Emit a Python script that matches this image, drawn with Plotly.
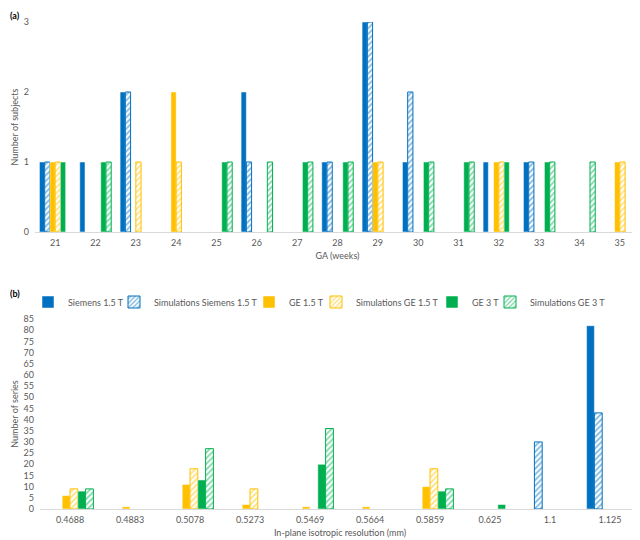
import plotly.graph_objects as go
import plotly.subplots as sp

# (a) subjects per gestational age
weeks = ["21", "22", "23", "24", "25", "26", "27", "28", "29", "30", "31", "32", "33", "34", "35"]
subj_siemens_15 = [1, 1, 2, 0, 0, 2, 0, 1, 3, 1, 0, 1, 1, 0, 0]
subj_sim_siemens_15 = [1, 0, 2, 0, 0, 1, 0, 1, 3, 2, 0, 0, 1, 0, 0]
subj_ge_15 = [1, 0, 0, 2, 0, 0, 0, 0, 1, 0, 0, 1, 0, 0, 1]
subj_sim_ge_15 = [1, 0, 1, 1, 0, 0, 0, 0, 1, 0, 0, 1, 0, 0, 1]
subj_ge_3 = [1, 1, 0, 0, 1, 0, 1, 1, 0, 1, 1, 1, 1, 0, 0]
subj_sim_ge_3 = [0, 1, 0, 0, 1, 1, 1, 1, 0, 1, 1, 0, 1, 1, 0]

# (b) series per in-plane resolution
resolutions = ["0.4688", "0.4883", "0.5078", "0.5273", "0.5469", "0.5664", "0.5859", "0.625", "1.1", "1.125"]
ser_siemens_15 = [0, 0, 0, 0, 0, 0, 0, 0, 0, 82]
ser_sim_siemens_15 = [0, 0, 0, 0, 0, 0, 0, 0, 30, 43]
ser_ge_15 = [6, 1, 11, 2, 1, 1, 10, 0, 0, 0]
ser_sim_ge_15 = [9, 0, 18, 9, 0, 0, 18, 0, 0, 0]
ser_ge_3 = [8, 0, 13, 0, 20, 0, 8, 2, 0, 0]
ser_sim_ge_3 = [9, 0, 27, 0, 36, 0, 9, 0, 0, 0]

series_names = [
    "Siemens 1.5 T",
    "Simulations Siemens 1.5 T",
    "GE 1.5 T",
    "Simulations GE 1.5 T",
    "GE 3 T",
    "Simulations GE 3 T",
]

BLUE = "#0070C0"
YELLOW = "#FFC000"
GREEN = "#00B050"
GREY = "#595959"
FONT = "Lato, 'Open Sans', sans-serif"

styles = [
    (BLUE, False),
    (BLUE, True),
    (YELLOW, False),
    (YELLOW, True),
    (GREEN, False),
    (GREEN, True),
]

# one legend per entry so the row can be laid out like the Excel legend
legend_ids = ["legend", "legend2", "legend3", "legend4", "legend5", "legend6"]
legend_left_px = [20, 106, 241, 308, 424, 482]


def make_bar(name, x, values, color, hatched, legend=None):
    # Excel leaves empty categories blank, so zeros are dropped
    y = [v if v else None for v in values]
    if hatched:
        marker = dict(
            color="white",
            line=dict(color=color, width=1),
            pattern=dict(shape="/", fgcolor=color, bgcolor="white", size=4, solidity=0.45),
        )
    else:
        marker = dict(color=color, line=dict(color="white", width=0.5))
    bar = go.Bar(name=name, x=x, y=y, marker=marker, showlegend=legend is not None)
    if legend:
        bar.legend = legend
    return bar


fig = sp.make_subplots(rows=2, cols=1)

top_values = [subj_siemens_15, subj_sim_siemens_15, subj_ge_15, subj_sim_ge_15, subj_ge_3, subj_sim_ge_3]
bottom_values = [ser_siemens_15, ser_sim_siemens_15, ser_ge_15, ser_sim_ge_15, ser_ge_3, ser_sim_ge_3]

for name, vals, (color, hatched) in zip(series_names, top_values, styles):
    fig.add_trace(make_bar(name, weeks, vals, color, hatched), row=1, col=1)

for name, vals, (color, hatched), leg in zip(series_names, bottom_values, styles, legend_ids):
    fig.add_trace(make_bar(name, resolutions, vals, color, hatched, leg), row=2, col=1)

W, H = 640, 540

axis_font = dict(family=FONT, size=9, color=GREY)
xaxis_common = dict(
    type="category",
    showgrid=False,
    zeroline=False,
    showline=True,
    linecolor="#D9D9D9",
    linewidth=1,
    ticks="",
    tickfont=axis_font,
    ticklabelstandoff=2,
)
yaxis_common = dict(
    showgrid=False,
    zeroline=False,
    showline=False,
    ticks="",
    tickfont=axis_font,
    ticklabelstandoff=5,
)

fig.update_xaxes(
    **xaxis_common,
    domain=[27 / W, 632 / W],
    title=dict(text="GA (weeks)", font=axis_font, standoff=5),
    row=1,
    col=1,
)
fig.update_xaxes(
    **xaxis_common,
    domain=[32 / W, 632 / W],
    title=dict(text="In-plane isotropic resolution (mm)", font=axis_font, standoff=5),
    row=2,
    col=1,
)
fig.update_yaxes(
    **yaxis_common,
    domain=[1 - 224 / H, 1 - 14 / H],
    range=[0, 3],
    dtick=1,
    title=dict(text="Number of subjects", font=axis_font, standoff=3),
    row=1,
    col=1,
)
fig.update_yaxes(
    **yaxis_common,
    domain=[1 - 501 / H, 1 - 311 / H],
    range=[0, 85],
    dtick=5,
    title=dict(text="Number of series", font=axis_font, standoff=3),
    row=2,
    col=1,
)

fig.add_annotation(
    text="<b>(a)</b>", x=0, y=1, xref="paper", yref="paper",
    xanchor="left", yanchor="top", showarrow=False,
    font=dict(family=FONT, size=9, color="black"),
)
fig.add_annotation(
    text="<b>(b)</b>", x=0, y=1 - 285 / H, xref="paper", yref="paper",
    xanchor="left", yanchor="middle", showarrow=False,
    font=dict(family=FONT, size=9, color="black"),
)

legend_layout = {}
for leg, left in zip(legend_ids, legend_left_px):
    legend_layout[leg] = dict(
        orientation="h",
        x=left / W,
        xanchor="left",
        y=1 - 294 / H,
        yanchor="middle",
        itemwidth=30,
        font=dict(family=FONT, size=9, color=GREY),
        bgcolor="rgba(0,0,0,0)",
    )

fig.update_layout(
    width=W,
    height=H,
    barmode="group",
    bargap=0.22,
    bargroupgap=0,
    plot_bgcolor="white",
    paper_bgcolor="white",
    margin=dict(l=0, r=0, t=0, b=0, autoexpand=False),
    font=dict(family=FONT, size=9, color=GREY),
    **legend_layout,
)

fig.write_html("out.html")
